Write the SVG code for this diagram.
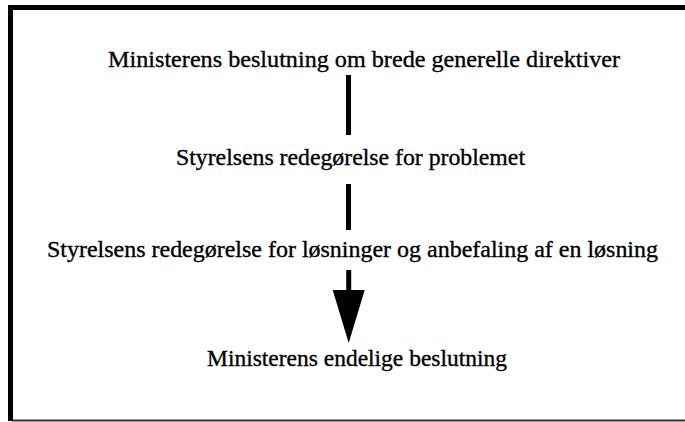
<svg xmlns="http://www.w3.org/2000/svg" width="685" height="422" viewBox="0 0 685 422">
<style>
.lbl{font-family:"Liberation Serif","Times New Roman",serif;font-size:24px;fill:#000;stroke:#000;stroke-width:0.35;}
.conn{stroke:#000;stroke-width:5;fill:none;}
</style>
<defs>
<marker id="tri" markerUnits="userSpaceOnUse" viewBox="0 0 53 32" refX="0" refY="16" markerWidth="53" markerHeight="32" orient="auto">
<path d="M0,0 L53,16 L0,32 Z" fill="#000"/>
</marker>
</defs>
<rect width="685" height="422" fill="#fff"/>
<g id="frame">
<path d="M10.5,421 V7.5 H685" fill="none" stroke="#000" stroke-width="5"/>
<path d="M12,420.5 H685" fill="none" stroke="#333" stroke-width="2"/>
</g>
<g id="connectors">
<line class="conn" x1="348.5" y1="75" x2="348.5" y2="135"/>
<line class="conn" x1="348.5" y1="184" x2="348.5" y2="230"/>
<line class="conn" x1="348.7" y1="270" x2="348.7" y2="290" stroke-width="4" marker-end="url(#tri)"/>
</g>
<g id="n1"><text class="lbl" x="108" y="67" textLength="512" lengthAdjust="spacingAndGlyphs">Ministerens beslutning om brede generelle direktiver</text></g>
<g id="n2"><text class="lbl" x="176" y="165" textLength="349" lengthAdjust="spacingAndGlyphs">Styrelsens redegørelse for problemet</text></g>
<g id="n3"><text class="lbl" x="47" y="257" textLength="611" lengthAdjust="spacingAndGlyphs">Styrelsens redegørelse for løsninger og anbefaling af en løsning</text></g>
<g id="n4"><text class="lbl" x="207" y="366" textLength="300" lengthAdjust="spacingAndGlyphs">Ministerens endelige beslutning</text></g>
</svg>
